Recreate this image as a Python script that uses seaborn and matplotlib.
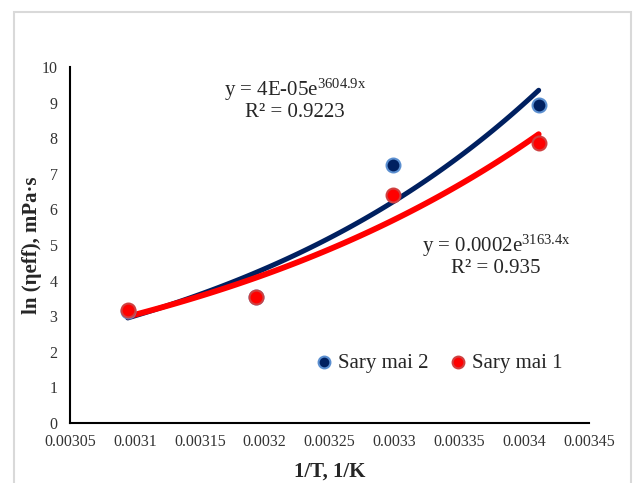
import numpy as np
import pandas as pd
import matplotlib
matplotlib.use("Agg")
import matplotlib.pyplot as plt
from matplotlib.patches import Rectangle
import seaborn as sns

# data (1/T in 1/K, ln of effective viscosity)
inv_t = [0.0030945, 0.0031934, 0.0032987, 0.0034112]
sary_mai_2 = [3.15, 3.55, 7.25, 8.93]
sary_mai_1 = [3.17, 3.53, 6.40, 7.87]
series_names = ["Sary mai 2", "Sary mai 1"]
eq_labels = [r"y = 4E-05e$^{3604.9x}$" + "\nR² = 0.9223",
             r"y = 0.0002e$^{3163.4x}$" + "\nR² = 0.935"]
x_ticks = [0.00305, 0.0031, 0.00315, 0.0032, 0.00325, 0.0033, 0.00335, 0.0034, 0.00345]
x_tick_labels = ["0.00305", "0.0031", "0.00315", "0.0032", "0.00325",
                 "0.0033", "0.00335", "0.0034", "0.00345"]
y_ticks = list(range(0, 11))

sns.set_theme(style="white")
plt.rcParams["font.family"] = ["Liberation Serif", "DejaVu Serif"]
plt.rcParams["mathtext.fontset"] = "custom"
plt.rcParams["mathtext.rm"] = "Liberation Serif"
plt.rcParams["mathtext.it"] = "Liberation Serif:italic"
plt.rcParams["mathtext.default"] = "rm"

line_cols = ["#002060", "#ff0000"]
face_cols = ["#002060", "#ff0000"]
edge_cols = ["#5b8fd0", "#d04040"]

df = pd.DataFrame({"x": inv_t * 2,
                   "y": sary_mai_2 + sary_mai_1,
                   "series": [series_names[0]] * 4 + [series_names[1]] * 4})

fig = plt.figure(figsize=(6.33, 4.83), dpi=100)
ax = fig.add_axes([0.1106, 0.1242, 0.8199, 0.7371])

# exponential trendlines, fitted like Excel (linear fit of ln y)
for vals, col, lw in zip([sary_mai_2, sary_mai_1], line_cols, [3.6, 4.2]):
    b, lna = np.polyfit(inv_t, np.log(vals), 1)
    xs = np.linspace(min(inv_t), max(inv_t), 100)
    sns.lineplot(x=xs, y=np.exp(lna + b * xs), ax=ax, color=col, lw=lw,
                 solid_capstyle="round", legend=False, zorder=2)

for name, fc, ec in zip(series_names, face_cols, edge_cols):
    sub = df[df["series"] == name]
    sns.scatterplot(data=sub, x="x", y="y", ax=ax, color=fc, edgecolor=ec,
                    linewidth=1.5, s=100, label=name, zorder=3)

ax.set_xlim(0.00305, 0.00345)
ax.set_ylim(0, 10)
ax.set_xticks(x_ticks)
ax.set_xticklabels(x_tick_labels)
ax.set_yticks(y_ticks)
ax.tick_params(direction="in", length=4, width=1.2, colors="black",
               labelsize=11.5, labelcolor="#333333")
ax.tick_params(axis="x", pad=8)
ax.tick_params(axis="y", pad=9)
for s in ["top", "right"]:
    ax.spines[s].set_visible(False)
for s in ["left", "bottom"]:
    ax.spines[s].set_color("black")
    ax.spines[s].set_linewidth(1.5)

ax.set_xlabel("1/T, 1/K", fontsize=15, fontweight="bold", labelpad=8)
ax.set_ylabel("ln (ηeff), mPa·s", fontsize=15, fontweight="bold", labelpad=0)

ax.text(0.4335, 0.91, eq_labels[0], transform=ax.transAxes, ha="center",
        va="center", fontsize=15, linespacing=1.0)
ax.text(0.821, 0.47, eq_labels[1], transform=ax.transAxes, ha="center",
        va="center", fontsize=15, linespacing=1.0)

ax.legend(loc="center", bbox_to_anchor=(0.711, 0.169), ncol=2, frameon=False,
          fontsize=15, handlelength=0.8, handletextpad=0.3, columnspacing=1.0,
          markerscale=0.85, borderpad=0.2)

fig.patches.append(Rectangle((14 / 633, -0.1), 617 / 633, 1.075,
                             transform=fig.transFigure, fill=False,
                             edgecolor="#d9d9d9", lw=1.5))

fig.savefig("out.png", dpi=100)
